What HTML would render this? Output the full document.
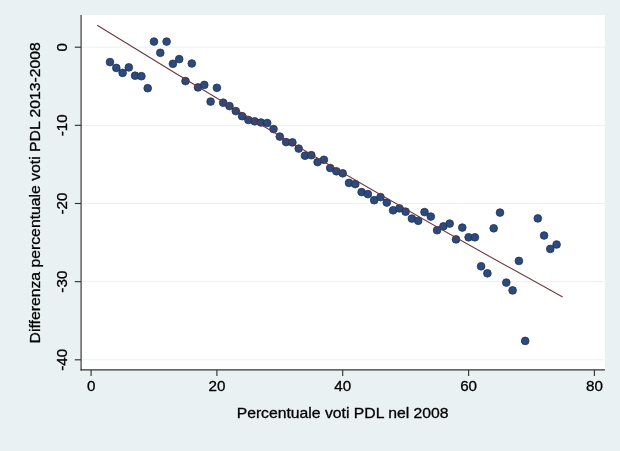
<!DOCTYPE html>
<html><head><meta charset="utf-8"><title>Differenza percentuale voti PDL 2013-2008</title>
<style>
html,body{margin:0;padding:0;background:#eaf1f3;}
body{width:620px;height:451px;overflow:hidden;}
svg{display:block;font-family:"Liberation Sans",Arial,Helvetica,sans-serif;font-size:15.2px;fill:#000;}
</style></head><body>
<svg width="620" height="451" viewBox="0 0 620 451">
<rect x="0" y="0" width="620" height="451" fill="#eaf1f3"/>
<rect x="81" y="15" width="524" height="355" fill="#ffffff"/>
<g stroke="#edf0f1" stroke-width="1"><line x1="81.5" x2="605" y1="47.2" y2="47.2"/><line x1="81.5" x2="605" y1="125.35" y2="125.35"/><line x1="81.5" x2="605" y1="203.5" y2="203.5"/><line x1="81.5" x2="605" y1="281.65" y2="281.65"/><line x1="81.5" x2="605" y1="359.8" y2="359.8"/></g>
<g fill="#2c4a7c" stroke="#203256" stroke-width="0.8"><circle cx="110.0" cy="62.1" r="3.85"/><circle cx="116.3" cy="67.9" r="3.85"/><circle cx="122.6" cy="72.9" r="3.85"/><circle cx="128.8" cy="67.4" r="3.85"/><circle cx="135.1" cy="75.7" r="3.85"/><circle cx="141.4" cy="76.2" r="3.85"/><circle cx="147.7" cy="88.2" r="3.85"/><circle cx="154.0" cy="41.6" r="3.85"/><circle cx="160.3" cy="52.8" r="3.85"/><circle cx="166.6" cy="41.6" r="3.85"/><circle cx="172.9" cy="63.8" r="3.85"/><circle cx="179.2" cy="59.1" r="3.85"/><circle cx="185.5" cy="81.1" r="3.85"/><circle cx="191.8" cy="63.5" r="3.85"/><circle cx="198.0" cy="87.4" r="3.85"/><circle cx="204.3" cy="84.9" r="3.85"/><circle cx="210.6" cy="101.6" r="3.85"/><circle cx="216.9" cy="87.8" r="3.85"/><circle cx="223.2" cy="102.7" r="3.85"/><circle cx="229.5" cy="106.1" r="3.85"/><circle cx="235.8" cy="111.1" r="3.85"/><circle cx="242.1" cy="116.2" r="3.85"/><circle cx="248.4" cy="120.0" r="3.85"/><circle cx="254.7" cy="121.3" r="3.85"/><circle cx="261.0" cy="122.5" r="3.85"/><circle cx="267.2" cy="123.0" r="3.85"/><circle cx="273.5" cy="129.1" r="3.85"/><circle cx="279.8" cy="136.6" r="3.85"/><circle cx="286.1" cy="142.1" r="3.85"/><circle cx="292.4" cy="142.4" r="3.85"/><circle cx="298.7" cy="148.6" r="3.85"/><circle cx="305.0" cy="155.7" r="3.85"/><circle cx="311.3" cy="155.2" r="3.85"/><circle cx="317.6" cy="162.1" r="3.85"/><circle cx="323.9" cy="159.8" r="3.85"/><circle cx="330.2" cy="168.0" r="3.85"/><circle cx="336.4" cy="171.3" r="3.85"/><circle cx="342.7" cy="173.3" r="3.85"/><circle cx="349.0" cy="182.9" r="3.85"/><circle cx="355.3" cy="184.1" r="3.85"/><circle cx="361.6" cy="192.1" r="3.85"/><circle cx="367.9" cy="194.1" r="3.85"/><circle cx="374.2" cy="200.2" r="3.85"/><circle cx="380.5" cy="197.1" r="3.85"/><circle cx="386.8" cy="202.6" r="3.85"/><circle cx="393.1" cy="210.3" r="3.85"/><circle cx="399.4" cy="208.4" r="3.85"/><circle cx="405.6" cy="211.7" r="3.85"/><circle cx="411.9" cy="218.6" r="3.85"/><circle cx="418.2" cy="220.8" r="3.85"/><circle cx="424.5" cy="212.1" r="3.85"/><circle cx="430.8" cy="216.6" r="3.85"/><circle cx="437.1" cy="230.2" r="3.85"/><circle cx="443.4" cy="226.3" r="3.85"/><circle cx="449.7" cy="223.6" r="3.85"/><circle cx="456.0" cy="239.4" r="3.85"/><circle cx="462.3" cy="227.6" r="3.85"/><circle cx="468.6" cy="237.3" r="3.85"/><circle cx="474.9" cy="237.3" r="3.85"/><circle cx="481.1" cy="266.3" r="3.85"/><circle cx="487.4" cy="273.3" r="3.85"/><circle cx="493.7" cy="228.3" r="3.85"/><circle cx="500.0" cy="212.6" r="3.85"/><circle cx="506.3" cy="282.6" r="3.85"/><circle cx="512.6" cy="290.4" r="3.85"/><circle cx="518.9" cy="260.9" r="3.85"/><circle cx="525.2" cy="340.9" r="3.85"/><circle cx="537.8" cy="218.4" r="3.85"/><circle cx="544.1" cy="235.5" r="3.85"/><circle cx="550.3" cy="248.9" r="3.85"/><circle cx="556.6" cy="244.5" r="3.85"/></g>
<path d="M97.2 25.3 Q329.95 169.45 562.7 296.9" fill="none" stroke="#6e3740" stroke-width="1.1"/>
<g stroke="#333" stroke-width="1.15" fill="none">
<line x1="81.1" x2="81.1" y1="15" y2="370.45"/>
<line x1="80.5" x2="605" y1="369.9" y2="369.9"/>
<line x1="74.8" x2="81" y1="47.2" y2="47.2"/><line x1="74.8" x2="81" y1="125.35" y2="125.35"/><line x1="74.8" x2="81" y1="203.5" y2="203.5"/><line x1="74.8" x2="81" y1="281.65" y2="281.65"/><line x1="74.8" x2="81" y1="359.8" y2="359.8"/><line x1="91.1" x2="91.1" y1="370" y2="375.9"/><line x1="216.9" x2="216.9" y1="370" y2="375.9"/><line x1="342.7" x2="342.7" y1="370" y2="375.9"/><line x1="468.6" x2="468.6" y1="370" y2="375.9"/><line x1="594.4" x2="594.4" y1="370" y2="375.9"/>
</g>
<g stroke="#000" stroke-width="0.32"><text transform="translate(67.2 47.2) rotate(-90) scale(1 0.97)" text-anchor="middle">0</text><text transform="translate(67.2 125.35) rotate(-90) scale(1 0.97)" text-anchor="middle">-10</text><text transform="translate(67.2 203.5) rotate(-90) scale(1 0.97)" text-anchor="middle">-20</text><text transform="translate(67.2 281.65) rotate(-90) scale(1 0.97)" text-anchor="middle">-30</text><text transform="translate(67.2 359.8) rotate(-90) scale(1 0.97)" text-anchor="middle">-40</text><text transform="translate(91.1 391) scale(1 0.97)" text-anchor="middle">0</text><text transform="translate(216.9 391) scale(1 0.97)" text-anchor="middle">20</text><text transform="translate(342.7 391) scale(1 0.97)" text-anchor="middle">40</text><text transform="translate(468.6 391) scale(1 0.97)" text-anchor="middle">60</text><text transform="translate(594.4 391) scale(1 0.97)" text-anchor="middle">80</text>
<text transform="translate(342.6 417.5) scale(1 0.94)" text-anchor="middle" font-size="15.75">Percentuale voti PDL nel 2008</text>
<text transform="translate(40.2 192.8) rotate(-90) scale(1 0.95)" text-anchor="middle" font-size="15.75">Differenza percentuale voti PDL 2013-2008</text>
</g>
</svg>
</body></html>
